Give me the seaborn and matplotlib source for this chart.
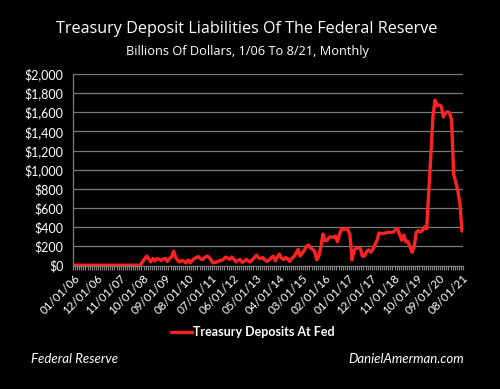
import matplotlib
matplotlib.use("Agg")
import matplotlib.pyplot as plt
import seaborn as sns
import pandas as pd
import numpy as np

# ---- data (billions of dollars, monthly, Jan 2006 .. Aug 2021) ----
v2006 = [5, 5, 5, 5, 6, 5, 5, 5, 5, 5, 5, 5]
v2007 = [5, 5, 5, 5, 5, 5, 5, 5, 5, 5, 5, 5]
v2008 = [5, 5, 5, 5, 5, 5, 5, 5, 8, 40, 70, 100]
v2009 = [70, 40, 75, 50, 75, 65, 55, 70, 75, 45, 75, 90]
v2010 = [150, 85, 55, 40, 55, 45, 30, 60, 30, 55, 75, 85]
v2011 = [95, 70, 65, 85, 100, 90, 60, 30, 35, 40, 50, 55]
v2012 = [65, 90, 80, 65, 90, 70, 40, 55, 65, 35, 45, 65]
v2013 = [50, 40, 65, 85, 110, 80, 75, 85, 60, 45, 60, 80]
v2014 = [100, 50, 90, 120, 80, 65, 85, 70, 45, 75, 95, 130]
v2015 = [170, 100, 130, 160, 200, 215, 185, 170, 150, 60, 100, 200]
v2016 = [330, 260, 265, 295, 300, 295, 310, 250, 330, 385, 375, 385]
v2017 = [375, 320, 60, 160, 180, 185, 180, 100, 100, 145, 165, 140]
v2018 = [170, 215, 260, 340, 335, 335, 340, 345, 350, 345, 350, 375]
v2019 = [385, 320, 265, 320, 250, 250, 195, 140, 200, 350, 365, 350]
v2020 = [370, 405, 385, 780, 1150, 1550, 1725, 1665, 1675, 1665, 1550, 1590]
v2021 = [1605, 1590, 1520, 955, 870, 780, 650, 360]

values = (v2006 + v2007 + v2008 + v2009 + v2010 + v2011 + v2012 + v2013 +
          v2014 + v2015 + v2016 + v2017 + v2018 + v2019 + v2020 + v2021)

tick_labels = ["01/01/06", "12/01/06", "11/01/07", "10/01/08", "09/01/09",
               "08/01/10", "07/01/11", "06/01/12", "05/01/13", "04/01/14",
               "03/01/15", "02/01/16", "01/01/17", "12/01/17", "11/01/18",
               "10/01/19", "09/01/20", "08/01/21"]
y_ticks = [0, 200, 400, 600, 800, 1000, 1200, 1400, 1600, 1800, 2000]

series_name = "Treasury Deposits At Fed"
title = "Treasury Deposit Liabilities Of The Federal Reserve"
subtitle = "Billions Of Dollars, 1/06 To 8/21, Monthly"
source = "Federal Reserve"
site = "DanielAmerman.com"

df = pd.DataFrame({"month": np.arange(len(values)), "value": values,
                   "series": series_name})

sns.set_theme(style="dark")
plt.rcParams["font.family"] = ["Lato", "DejaVu Sans"]

fig = plt.figure(figsize=(5.0, 3.89), dpi=100, facecolor="black")
ax = fig.add_axes([0.146, 0.317, 0.78, 0.4935])
ax.set_facecolor("black")

sns.lineplot(data=df, x="month", y="value", hue="series",
             palette=["#ff2222"], linewidth=2.4, ax=ax, legend=False)

n = len(values)
ax.set_xlim(-0.5, n - 0.5)
ax.set_ylim(0, 2000)
ax.set_yticks(y_ticks)
ax.set_yticklabels([f"${v:,}" for v in y_ticks], color="white", fontsize=9)
ax.yaxis.grid(True, color="#7a7a7a", linewidth=0.9)
ax.xaxis.grid(False)
ax.set_axisbelow(True)

tick_pos = np.arange(0, n, 11)
ax.set_xticks(tick_pos)
ax.set_xticklabels(tick_labels, rotation=45, ha="right",
                   rotation_mode="anchor", color="white", fontsize=8.4)
ax.set_xticks(np.arange(-0.5, n, 1), minor=True)
ax.tick_params(axis="x", which="major", length=0, pad=5)
ax.tick_params(axis="x", which="minor", length=3, color="#8a8a8a",
               width=0.8, direction="out", bottom=True)
ax.tick_params(axis="y", length=0, pad=7)
ax.set_xlabel("")
ax.set_ylabel("")

for s in ["top", "right"]:
    ax.spines[s].set_visible(False)
ax.spines["left"].set_color("#7a7a7a")
ax.spines["bottom"].set_color("#7a7a7a")
ax.spines["left"].set_linewidth(0.9)
ax.spines["bottom"].set_linewidth(0.9)

fig.text(0.494, 1 - 29 / 389, title, color="white", fontsize=11.6,
         ha="center", va="center", family=["Open Sans", "DejaVu Sans"])
fig.text(0.495, 1 - 52 / 389, subtitle, color="white", fontsize=9.2,
         ha="center", va="center", family=["Open Sans", "DejaVu Sans"])

# legend
fig.lines.append(plt.Line2D([171 / 500, 192 / 500], [1 - 332 / 389] * 2,
                            transform=fig.transFigure, color="#ff2222",
                            linewidth=2.4))
fig.text(193 / 500, 1 - 332 / 389, series_name, color="white", fontsize=9,
         fontweight="bold", ha="left", va="center")

fig.text(31 / 500, 1 - 359 / 389, source, color="white", fontsize=9.5,
         style="italic", ha="left", va="center")
fig.text(464 / 500, 1 - 359 / 389, site, color="white", fontsize=9.5,
         style="italic", ha="right", va="center")

fig.savefig("out.png", dpi=100, facecolor="black")
